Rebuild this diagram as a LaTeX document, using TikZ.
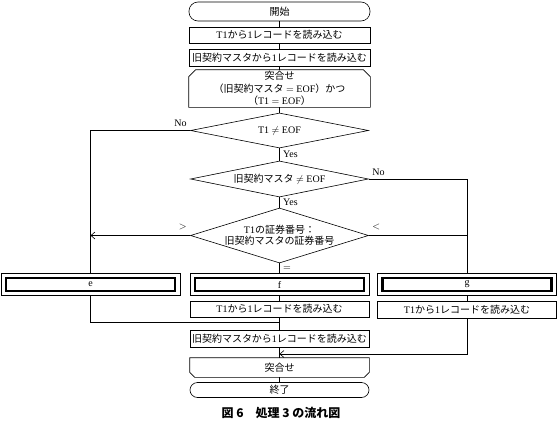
\documentclass[tikz,border=0pt]{standalone}
\usepackage{fontspec}
\setmainfont{Liberation Serif}
\newfontfamily\jp{Noto Sans CJK JP}
\newcommand{\J}[1]{{\jp #1}}
\usetikzlibrary{shapes.geometric, arrows.meta}
\begin{document}
\begin{tikzpicture}
        [
            x=1pt, y=-1pt, semithick, >={Straight Barb[length=4pt,width=7pt]},
            terminal/.style = {draw, rectangle, rounded corners=9pt, minimum width=181pt, minimum height=19pt, inner sep=0pt},
            process/.style = {draw, rectangle, minimum width=181pt, minimum height=17pt, inner sep=0pt},
            loopbox/.style = {rectangle, minimum width=181pt, inner sep=0pt, align=center, font=\fontsize{10}{12.5}\selectfont},
            decision/.style = {draw, diamond, minimum width=178pt, inner sep=0pt, align=center, font=\fontsize{10}{11}\selectfont},
            casebox/.style = {draw, rectangle, minimum width=179pt, minimum height=22pt, inner sep=0pt,
                path picture={\draw[line width=2.2pt] ([shift={(5pt,-4.5pt)}]path picture bounding box.north west) rectangle ([shift={(-5pt,4.5pt)}]path picture bounding box.south east);}},
        ]
        \useasboundingbox (0,0) rectangle (558,421);
        \node [terminal] (start) at (279.5,11.5) {\J{開始}};
        \node [process, minimum height=16pt] (read1) at (279.5,35) {T1\J{から}1\J{レコードを読み込む}};
        \node [process] (read2) at (279.5,57.5) {\J{旧契約マスタから}1\J{レコードを読み込む}};
        \node [loopbox, minimum height=37pt] (loop1) at (279.5,88.5) {\J{突合せ}\\[0.5pt]\J{（旧契約マスタ} $=$ EOF\J{）かつ}\\\J{（}T1 $=$ EOF\J{）}};
        \node [decision, minimum height=35pt, shape aspect=5] (d1) at (279.5,130.5) {T1 $\neq$ EOF};
        \node [decision, minimum height=36pt, shape aspect=5] (d2) at (279.5,179) {\J{旧契約マスタ} $\neq$ EOF};
        \node [decision, minimum height=55pt, shape aspect=3.2] (d3) at (279.5,235.5) {T1\J{の証券番号：}\\\J{旧契約マスタの証券番号}};
        \node [casebox] (e) at (90.5,284.5) {e};
        \node [casebox] (f) at (279.5,284.5) {f};
        \node [casebox] (g) at (467,284.5) {g};
        \node [process, minimum width=179pt, minimum height=16pt] (readf) at (279.5,309) {T1\J{から}1\J{レコードを読み込む}};
        \node [process, minimum width=179pt] (readg) at (467,310) {T1\J{から}1\J{レコードを読み込む}};
        \node [process, minimum width=179pt] (read3) at (279.5,338.5) {\J{旧契約マスタから}1\J{レコードを読み込む}};
        \node [loopbox, minimum width=179pt, minimum height=19pt] (loop2) at (279.5,367.5) {\J{突合せ}};
        \node [terminal, minimum width=179pt, minimum height=15pt, rounded corners=7.5pt] (finish) at (279.5,390) {\J{終了}};
        \node (caption) at (281,413) {\jp\bfseries\fontsize{12}{14}\selectfont 図 6　処理 3 の流れ図};
        \coordinate (join1) at (279.5,322);
        \coordinate (join2) at (279.5,354);
        \draw (loop1.south west) -- ([yshift=-7pt]loop1.north west) -- ([xshift=7pt]loop1.north west) -- ([xshift=-7pt]loop1.north east) -- ([yshift=-7pt]loop1.north east) -- (loop1.south east) -- cycle;
        \draw (loop2.north west) -- ([yshift=5pt]loop2.south west) -- ([xshift=5pt]loop2.south west) -- ([xshift=-5pt]loop2.south east) -- ([yshift=5pt]loop2.south east) -- (loop2.north east) -- cycle;
        \draw (start) -- (read1);
        \draw (read1) -- (read2);
        \draw (read2) -- (loop1);
        \draw (loop1) -- (d1);
        \draw (d1) -- node[right] {Yes} (d2);
        \draw (d2) -- node[right] {Yes} (d3);
        \draw (d3) -- node[right] {$=$} (f);
        \draw (d1.west) node[above left] {No} -| (e.north);
        \draw (d2.east) node[above right] {No} -| (g.north);
        \draw[->] (d3.west) node[above left, yshift=2pt] {$>$} -- (d3.west -| e.north);
        \draw (d3.east) node[above right, yshift=2pt] {$<$} -- (d3.east -| g.north);
        \draw (f) -- (readf);
        \draw (g) -- (readg);
        \draw (e.south) |- (join1);
        \draw (readf) -- (read3);
        \draw[->] (readg.south) |- (join2);
        \draw (read3) -- (loop2);
        \draw (loop2) -- (finish);
    \end{tikzpicture}
\end{document}
